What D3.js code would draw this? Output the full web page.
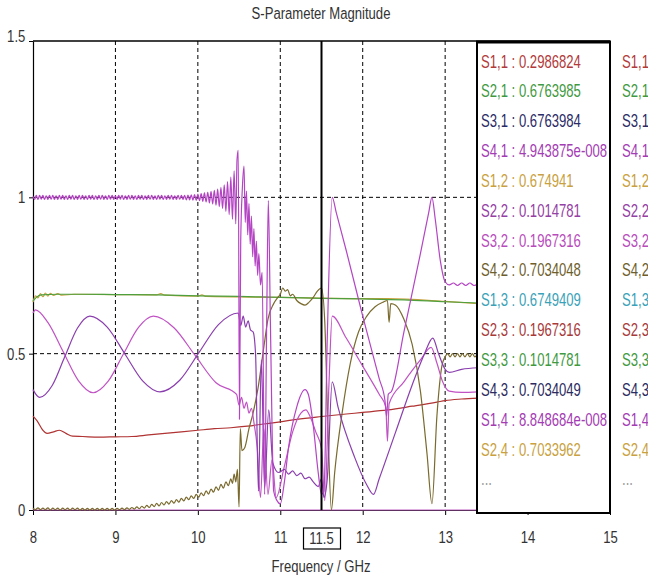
<!DOCTYPE html>
<html><head><meta charset="utf-8">
<script src="https://cdn.jsdelivr.net/npm/d3@7"></script>
<style>
body{margin:0;background:#fff}
svg{display:block}
text{font-family:"Liberation Sans",Arial,sans-serif}
</style>
</head><body>
<svg id="c" width="648" height="583"></svg>
<script>
const title = "S-Parameter Magnitude";
const xLabel = "Frequency / GHz";
const xTicks = [8, 9, 10, 11, 12, 13, 14, 15];
const yTicks = [0, 0.5, 1, 1.5];
const gridX = [9, 10, 11, 12, 13, 14];
const gridY = [0.5, 1];
const markerFreq = 11.5;

const legendLabels = ["S1,1 : 0.2986824","S2,1 : 0.6763985","S3,1 : 0.6763984","S4,1 : 4.943875e-008",
  "S1,2 : 0.674941","S2,2 : 0.1014781","S3,2 : 0.1967316","S4,2 : 0.7034048","S1,3 : 0.6749409",
  "S2,3 : 0.1967316","S3,3 : 0.1014781","S4,3 : 0.7034049","S1,4 : 8.848684e-008","S2,4 : 0.7033962","..."];
const legendColors = ["#b23a3a","#3f9a3f","#2b2b66","#a43cb4","#c9a13e","#9440a4","#b84cbc","#6e5e2c",
  "#3aa2b8","#a83a3a","#3f9a3f","#2b2b62","#a43cb4","#c9a13e","#999999"];
const legend2Labels = ["S1,1","S2,1","S3,1","S4,1","S1,2","S2,2","S3,2","S4,2","S1,3","S2,3","S3,3","S4,3","S1,4","S2,4","..."];

// |S| traces, [frequency GHz, magnitude]
const s41 = [[8,0],[13.4,0]];
const s11 = [[8.0,0.30],[8.05,0.285],[8.12,0.255],[8.17,0.245],[8.25,0.25],[8.32,0.255],[8.4,0.245],[8.48,0.236],
  [8.6,0.235],[8.8,0.233],[9.0,0.234],[9.2,0.235],[9.4,0.24],[9.6,0.245],[9.8,0.25],[10.0,0.255],[10.2,0.26],
  [10.4,0.263],[10.6,0.268],[10.8,0.275],[11.0,0.282],[11.2,0.29],[11.5,0.299],[11.8,0.307],[12.0,0.312],
  [12.3,0.32],[12.6,0.332],[12.9,0.345],[13.0,0.35],[13.2,0.355],[13.4,0.358]];
const s12 = [[8.0,0.665],[8.03,0.685],[8.06,0.678],[8.09,0.692],[8.12,0.682],[8.15,0.694],[8.18,0.684],[8.21,0.693],
  [8.25,0.686],[8.3,0.692],[8.35,0.687],[8.5,0.69],[9.0,0.689],[9.5,0.688],[9.55,0.692],[9.6,0.687],[10.0,0.684],
  [10.05,0.688],[10.1,0.683],[11.0,0.68],[12.0,0.676],[12.3,0.676],[13.0,0.667],[13.4,0.66]];
const s21 = [[8.0,0.668],[8.04,0.68],[8.1,0.688],[8.3,0.69],[8.6,0.69],[9.0,0.689],[9.5,0.688],[10.0,0.685],
  [10.5,0.683],[11.0,0.68],[11.5,0.677],[12.0,0.675],[12.5,0.672],[13.0,0.666],[13.4,0.662]];
const s42 = [[8.00,0.006],[8.03,0.001],[8.06,0.007],[8.09,0.001],[8.12,0.006],[8.15,0.001],[8.18,0.007],[8.21,0.0],
  [8.24,0.006],[8.27,0.001],[8.30,0.006],[8.33,0.0],[8.36,0.006],[8.39,0.001],[8.42,0.006],[8.45,0.0],[8.48,0.006],
  [8.51,0.001],[8.54,0.006],[8.57,0.0],[8.60,0.005],[8.63,0.0],[8.66,0.005],[8.69,0.0],[8.72,0.005],[8.75,0.0],
  [8.78,0.005],[8.81,0.0],[8.84,0.005],[8.87,0.0],[8.90,0.005],[8.93,0.0],[8.96,0.005],[8.99,0.0],[9.02,0.005],
  [9.05,0.001],[9.08,0.006],[9.11,0.001],[9.14,0.007],[9.17,0.002],[9.2,0.008],[9.23,0.003],[9.26,0.01],[9.29,0.004],
  [9.32,0.012],[9.35,0.006],[9.38,0.015],[9.41,0.008],[9.44,0.018],[9.47,0.011],[9.5,0.021],[9.53,0.013],[9.56,0.024],
  [9.59,0.016],[9.62,0.027],[9.65,0.019],[9.68,0.03],[9.71,0.022],[9.74,0.033],[9.77,0.025],[9.8,0.037],[9.83,0.029],
  [9.86,0.041],[9.89,0.033],[9.92,0.045],[9.95,0.037],[9.98,0.05],[10.01,0.041],[10.04,0.055],[10.07,0.046],
  [10.1,0.061],[10.13,0.051],[10.16,0.067],[10.19,0.057],[10.22,0.074],[10.25,0.063],[10.28,0.082],[10.31,0.07],
  [10.34,0.09],[10.37,0.078],[10.40,0.1],[10.42,0.085],[10.44,0.115],[10.46,0.09],[10.48,0.13],[10.5,0.01],
  [10.515,0.26],[10.535,0.19],[10.57,0.2],[10.62,0.26],[10.67,0.31],[10.73,0.39],[10.8,0.52],[10.85,0.61],
  [10.92,0.66],[10.97,0.68],[11.0,0.69],[11.03,0.71],[11.06,0.70],[11.09,0.705],[11.12,0.685],[11.15,0.69],
  [11.2,0.67],[11.25,0.66],[11.3,0.655],[11.35,0.665],[11.4,0.68],[11.45,0.70],[11.5,0.71],[11.54,0.6],[11.58,0.25],
  [11.62,0.0],[11.66,0.12],[11.75,0.31],[11.85,0.47],[11.95,0.57],[12.05,0.62],[12.15,0.65],[12.25,0.665],[12.3,0.67],
  [12.32,0.6],[12.34,0.66],[12.4,0.655],[12.5,0.61],[12.6,0.53],[12.7,0.38],[12.78,0.18],[12.84,0.02],[12.9,0.3],
  [12.96,0.46],[13.0,0.49],[13.03,0.5],[13.06,0.49],[13.09,0.5],[13.12,0.49],[13.15,0.5],[13.18,0.49],[13.21,0.5],
  [13.24,0.49],[13.27,0.5],[13.3,0.49],[13.33,0.5],[13.36,0.49],[13.4,0.5]];
const s32 = [[8.00,0.63],[8.03,0.64],[8.18,0.60],[8.365,0.507],[8.55,0.414],[8.73,0.375],[8.91,0.411],[9.095,0.498],
  [9.28,0.584],[9.46,0.62],[9.71,0.583],[9.965,0.495],[10.22,0.407],[10.47,0.37],[10.50,0.335],[10.53,0.36],
  [10.56,0.325],[10.59,0.345],[10.62,0.31],[10.65,0.325],[10.68,0.28],[10.72,0.2],[10.76,0.04],[10.80,0.26],
  [10.85,0.05],[10.9,0.16],[10.95,0.04],[11.05,0.14],[11.15,0.25],[11.25,0.31],[11.31,0.32],[11.36,0.30],[11.43,0.25],
  [11.5,0.197],[11.54,0.03],[11.59,0.4],[11.63,0.62],[11.8,0.55],[12.0,0.46],[12.2,0.37],[12.28,0.33],[12.3,0.22],
  [12.32,0.34],[12.5,0.41],[12.7,0.48],[12.83,0.52],[12.9,0.47],[12.97,0.41],[13.05,0.38],[13.2,0.376],[13.4,0.378]];
const s22 = [[8.00,0.385],[8.08,0.36],[8.233,0.398],[8.385,0.49],[8.54,0.582],[8.69,0.62],[8.9,0.585],[9.115,0.499],
  [9.33,0.413],[9.54,0.378],[9.78,0.415],[10.015,0.504],[10.25,0.593],[10.49,0.63],[10.52,0.59],[10.55,0.62],
  [10.58,0.585],[10.61,0.605],[10.64,0.575],[10.67,0.57],[10.70,0.5],[10.735,0.06],[10.77,0.48],[10.81,0.07],
  [10.86,0.32],[10.91,0.15],[10.98,0.12],[11.05,0.13],[11.1,0.115],[11.15,0.125],[11.2,0.11],[11.25,0.118],[11.3,0.1],
  [11.35,0.105],[11.4,0.09],[11.46,0.075],[11.5,0.1],[11.53,0.04],[11.57,0.1],[11.63,0.41],[11.7,0.33],[11.9,0.17],
  [12.05,0.08],[12.13,0.05],[12.2,0.1],[12.4,0.25],[12.6,0.4],[12.75,0.5],[12.85,0.55],[12.92,0.5],[13.0,0.45],
  [13.05,0.44],[13.2,0.45],[13.4,0.455]];
const s44 = [[8.00,1.003],[8.02,0.993],[8.04,1.006],[8.06,0.993],[8.08,1.006],[8.10,0.994],[8.12,1.006],[8.14,0.993],
  [8.16,1.005],[8.18,0.993],[8.20,1.006],[8.22,0.994],[8.24,1.006],[8.26,0.993],[8.28,1.005],[8.30,0.993],[8.32,1.006],
  [8.34,0.994],[8.36,1.006],[8.38,0.993],[8.40,1.005],[8.42,0.993],[8.44,1.006],[8.46,0.994],[8.48,1.006],[8.50,0.993],
  [8.52,1.005],[8.54,0.993],[8.56,1.006],[8.58,0.994],[8.60,1.006],[8.62,0.993],[8.64,1.005],[8.66,0.993],[8.68,1.006],
  [8.70,0.994],[8.72,1.006],[8.74,0.993],[8.76,1.005],[8.78,0.993],[8.80,1.006],[8.82,0.994],[8.84,1.006],[8.86,0.993],
  [8.88,1.005],[8.90,0.993],[8.92,1.006],[8.94,0.994],[8.96,1.006],[8.98,0.993],[9.00,1.005],[9.02,0.993],[9.04,1.006],
  [9.06,0.994],[9.08,1.006],[9.10,0.993],[9.12,1.005],[9.14,0.993],[9.16,1.006],[9.18,0.994],[9.20,1.006],[9.22,0.993],
  [9.24,1.005],[9.26,0.993],[9.28,1.006],[9.30,0.994],[9.32,1.006],[9.34,0.993],[9.36,1.005],[9.38,0.993],[9.40,1.006],
  [9.42,0.994],[9.44,1.006],[9.46,0.993],[9.48,1.005],[9.50,0.993],[9.52,1.006],[9.54,0.994],[9.56,1.006],[9.58,0.993],
  [9.60,1.005],[9.62,0.993],[9.64,1.006],[9.66,0.994],[9.68,1.006],[9.70,0.993],[9.72,1.005],[9.74,0.993],[9.76,1.006],
  [9.78,0.994],[9.80,1.006],[9.82,0.993],[9.84,1.006],[9.86,0.992],[9.88,1.007],[9.90,0.992],[9.92,1.008],[9.94,0.991],
  [9.96,1.009],[9.98,0.990],[10.00,1.010],[10.02,0.989],[10.04,1.012],[10.06,0.987],[10.08,1.014],[10.10,0.985],
  [10.12,1.016],[10.14,0.982],[10.16,1.019],[10.18,0.979],[10.20,1.022],[10.22,0.975],[10.24,1.026],[10.26,0.970],
  [10.28,1.032],[10.30,0.964],[10.32,1.04],[10.34,0.955],[10.36,1.05],[10.38,0.945],[10.40,1.065],[10.42,0.93],
  [10.44,1.085],[10.46,0.915],[10.475,1.12],[10.49,1.15],[10.505,0.29],[10.52,0.86],[10.54,1.03],[10.56,1.10],
  [10.575,0.92],[10.59,1.02],[10.605,0.88],[10.62,0.98],[10.635,0.85],[10.65,0.94],[10.665,0.81],[10.68,0.90],
  [10.695,0.78],[10.71,0.86],[10.725,0.75],[10.74,0.82],[10.76,0.72],[10.78,0.76],[10.81,0.05],[10.835,0.6],
  [10.855,0.99],[10.88,0.6],[10.92,0.06],[10.96,0.03],[11.0,0.02],[11.05,0.09],[11.1,0.2],[11.2,0.33],[11.3,0.385],
  [11.34,0.37],[11.4,0.27],[11.46,0.12],[11.5,0.05],[11.53,0.06],[11.57,0.55],[11.63,1.0],[11.68,0.95],[11.8,0.83],
  [12.0,0.62],[12.2,0.42],[12.27,0.35],[12.29,0.3],[12.31,0.37],[12.35,0.38],[12.5,0.57],[12.7,0.82],[12.8,0.95],
  [12.84,1.0],[12.88,0.93],[12.94,0.8],[13.0,0.73],[13.05,0.72],[13.1,0.726],[13.15,0.718],[13.2,0.726],[13.25,0.718],
  [13.3,0.726],[13.35,0.718],[13.4,0.724]];

const traces = [
  {data: s41, color: "#c060c4"},
  {data: s11, color: "#b03232"},
  {data: s12, color: "#c9a13e"},
  {data: s21, color: "#4ea03e"},
  {data: s42, color: "#7a6a2e"},
  {data: s32, color: "#c052c4"},
  {data: s22, color: "#8a3eae"},
  {data: s44, color: "#b444c4"}
];

const W = 648, H = 583;
const SX = 0.77;            // narrow text, as in the reference font
const SXL = 0.75;           // legend text
const FS = 17;
const svg = d3.select("#c");
const x = d3.scaleLinear().domain([8, 15]).range([33, 610]);
const y = d3.scaleLinear().domain([0, 1.5]).range([510, 41]);
const textColor = "#333";

function label(g, tx, ty, str, size, color, anchor, sx) {
  return g.append("text").attr("transform", `translate(${tx},${ty}) scale(${sx || SX},1)`)
    .attr("text-anchor", anchor || "start").attr("font-size", size).attr("fill", color).text(str);
}

svg.append("rect").attr("width", W).attr("height", H).attr("fill", "#fff");

label(svg, 321, 19, title, FS, textColor, "middle");

// grid
svg.append("g").selectAll("line").data(gridX).join("line")
  .attr("x1", d => x(d)).attr("x2", d => x(d)).attr("y1", y(1.5)).attr("y2", y(0))
  .attr("stroke", "#000").attr("stroke-width", 1).attr("stroke-dasharray", "4,3");
svg.append("g").selectAll("line").data(gridY).join("line")
  .attr("x1", x(8)).attr("x2", x(15)).attr("y1", d => y(d)).attr("y2", d => y(d))
  .attr("stroke", "#000").attr("stroke-width", 1).attr("stroke-dasharray", "4,3");

// axes
const xAxis = svg.append("g").attr("transform", `translate(0,${y(0)})`)
  .call(d3.axisBottom(x).tickValues(xTicks).tickFormat(d3.format("d")).tickSize(5).tickSizeOuter(0).tickPadding(16));
const yAxis = svg.append("g").attr("transform", `translate(${x(8)},0)`)
  .call(d3.axisLeft(y).tickValues(yTicks).tickFormat(d => String(d)).tickSize(4).tickSizeOuter(0).tickPadding(6));
[xAxis, yAxis].forEach(g => {
  g.attr("font-family", null).attr("font-size", null);
  g.selectAll("text").attr("font-size", FS).attr("fill", textColor).attr("transform", `scale(${SX},1)`);
  g.selectAll("line").attr("stroke", "#000");
  g.select(".domain").attr("stroke", "#000").attr("stroke-width", 1.2);
});
yAxis.selectAll(".tick text").filter(d => d === 1.5).attr("dy", "0em");

// top frame
svg.append("line").attr("x1", x(8)).attr("x2", x(15)).attr("y1", y(1.5)).attr("y2", y(1.5))
  .attr("stroke", "#000").attr("stroke-width", 1.5);

// traces
const line = d3.line().x(d => x(d[0])).y(d => y(d[1])).curve(d3.curveMonotoneX);
svg.append("g").selectAll("path").data(traces).join("path")
  .attr("d", d => line(d.data)).attr("fill", "none")
  .attr("stroke", d => d.color).attr("stroke-width", 1.2).attr("stroke-linejoin", "round");

// marker
svg.append("line").attr("x1", x(markerFreq)).attr("x2", x(markerFreq)).attr("y1", y(1.5)).attr("y2", y(0))
  .attr("stroke", "#000").attr("stroke-width", 2);
svg.append("rect").attr("x", x(markerFreq) - 18).attr("y", 528).attr("width", 37).attr("height", 21)
  .attr("fill", "#fff").attr("stroke", "#000").attr("stroke-width", 1.2);
label(svg, x(markerFreq), 544, String(markerFreq), FS, textColor, "middle");

label(svg, 321, 572, xLabel, FS, textColor, "middle");

// legend box
const lg = svg.append("g");
lg.append("rect").attr("x", 477).attr("y", 42).attr("width", 133).attr("height", 471)
  .attr("fill", "#fff").attr("stroke", "#000").attr("stroke-width", 2);
lg.append("line").attr("x1", 476).attr("x2", 611).attr("y1", 42).attr("y2", 42)
  .attr("stroke", "#000").attr("stroke-width", 3);
legendLabels.forEach((t, i) => label(lg, 481, 67.5 + i * 29.85, t, 17.5, legendColors[i], "start", SXL));
legend2Labels.forEach((t, i) => label(lg, 622, 67.5 + i * 29.85, t, 17.5, legendColors[i], "start", SXL));
</script>
</body></html>
